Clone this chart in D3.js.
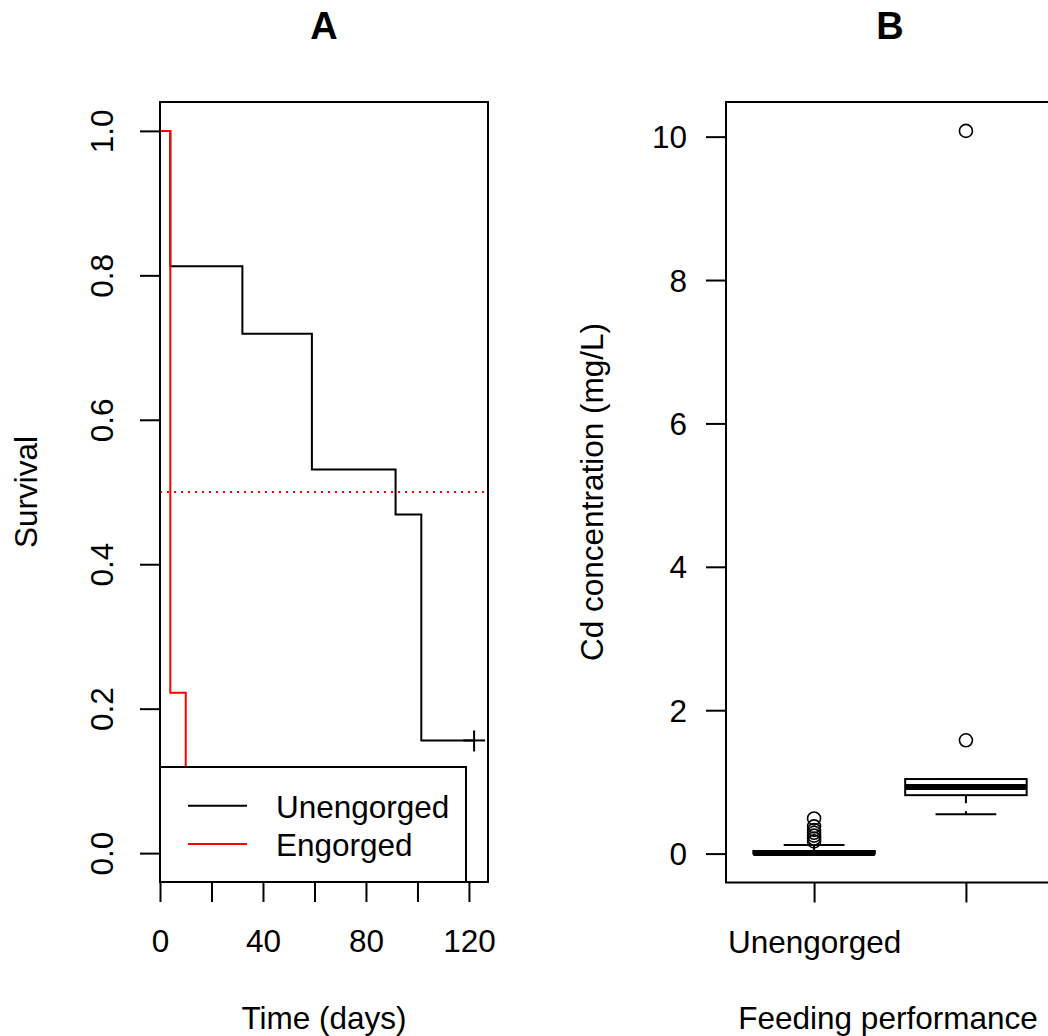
<!DOCTYPE html>
<html>
<head>
<meta charset="utf-8">
<script src="https://cdnjs.cloudflare.com/ajax/libs/d3/7.8.5/d3.min.js"></script>
<style>
  body { margin: 0; background: #fff; }
  text { font-family: "Liberation Sans", Arial, sans-serif; fill: #000; }
</style>
</head>
<body>
<script>
// ---- data ----
// Panel A: Kaplan-Meier steps
var unengTimes = [0, 4, 32, 59, 91.5, 101.5, 122];
var unengSurv  = [1, 0.8125, 0.719, 0.531, 0.469, 0.156, 0.156];
var engTimes   = [0, 4, 10, 10];
var engSurv    = [1, 0.222, 0, 0];
var censorTimes = [122];
var censorSurv  = [0.156];
var legendLabels = ["Unengorged", "Engorged"];
var legendColors = ["#000000", "#ff0000"];
var xTicksA = [0, 20, 40, 60, 80, 100, 120];
var xLabelsA = [0, 40, 80, 120];
var yTicksA = [0, 0.2, 0.4, 0.6, 0.8, 1.0];

// Panel B: boxplot stats
var groups   = ["Unengorged", "Engorged"];
var whiskLo  = [0, 0.55];
var q1       = [0, 0.815];
var medians  = [0.01, 0.93];
var q3       = [0.035, 1.04];
var whiskHi  = [0.12, 1.04];
var outliers = [[0.17, 0.21, 0.25, 0.29, 0.33, 0.38, 0.49], [1.58, 10.08]];
var yTicksB  = [0, 2, 4, 6, 8, 10];

var fs = 31.5;

var svg = d3.select("body").append("svg")
    .attr("width", 1048)
    .attr("height", 1036);

// ================= Panel A =================
var xA = d3.scaleLinear().domain([0, 127.4]).range([160, 488]);
var yA = d3.scaleLinear().domain([-0.04, 1.04]).range([882, 102]);

svg.append("text")
    .attr("x", 324).attr("y", 39)
    .attr("text-anchor", "middle")
    .style("font-size", "38px").style("font-weight", "bold")
    .text("A");

// y axis
var yAxisA = svg.append("g")
    .attr("transform", "translate(160,0)")
    .call(d3.axisLeft(yA).tickValues(yTicksA).tickSize(20).tickFormat(d3.format(".1f")));
yAxisA.select(".domain").remove();
yAxisA.selectAll("line").attr("stroke", "#000").attr("stroke-width", 2);
yAxisA.selectAll("text")
    .attr("x", 0).attr("y", 0).attr("dy", 0)
    .attr("text-anchor", "middle")
    .attr("transform", "translate(-47,0) rotate(-90)")
    .style("font-size", fs + "px").attr("fill", "#000");

// x axis
var xAxisA = svg.append("g")
    .attr("transform", "translate(0,882)")
    .call(d3.axisBottom(xA).tickValues(xTicksA).tickSize(20)
        .tickFormat(function(d) { return xLabelsA.indexOf(d) >= 0 ? d : ""; }));
xAxisA.select(".domain").remove();
xAxisA.selectAll("line").attr("stroke", "#000").attr("stroke-width", 2);
xAxisA.selectAll("text")
    .attr("y", 70).attr("dy", 0)
    .style("font-size", fs + "px").attr("fill", "#000");

svg.append("text")
    .attr("x", 324).attr("y", 1029)
    .attr("text-anchor", "middle")
    .style("font-size", fs + "px")
    .text("Time (days)");

svg.append("text")
    .attr("transform", "translate(37,492) rotate(-90)")
    .attr("text-anchor", "middle")
    .style("font-size", fs + "px")
    .text("Survival");

// curves
var stepLine = d3.line()
    .x(function(d) { return xA(d[0]); })
    .y(function(d) { return yA(d[1]); })
    .curve(d3.curveStepAfter);

svg.append("path")
    .datum(d3.zip(unengTimes, unengSurv))
    .attr("d", stepLine)
    .attr("fill", "none").attr("stroke", "#000").attr("stroke-width", 2);

svg.append("path")
    .datum(d3.zip(engTimes, engSurv))
    .attr("d", stepLine)
    .attr("fill", "none").attr("stroke", "#ff0000").attr("stroke-width", 2);

// censor marks
censorTimes.forEach(function(t, i) {
    var cx = xA(t), cy = yA(censorSurv[i]);
    svg.append("line").attr("x1", cx - 11).attr("x2", cx + 11).attr("y1", cy).attr("y2", cy)
        .attr("stroke", "#000").attr("stroke-width", 2);
    svg.append("line").attr("x1", cx).attr("x2", cx).attr("y1", cy - 10).attr("y2", cy + 11)
        .attr("stroke", "#000").attr("stroke-width", 2);
});

// median reference line
svg.append("line")
    .attr("x1", 160).attr("x2", 488)
    .attr("y1", yA(0.5)).attr("y2", yA(0.5))
    .attr("stroke", "#ff0000").attr("stroke-width", 2)
    .attr("stroke-dasharray", "2,5");

// legend
svg.append("rect")
    .attr("x", 160).attr("y", 767).attr("width", 306).attr("height", 115)
    .attr("fill", "#fff").attr("stroke", "#000").attr("stroke-width", 2);
legendLabels.forEach(function(lab, i) {
    var ly = 805.7 + i * 38.3;
    svg.append("line")
        .attr("x1", 188).attr("x2", 247).attr("y1", ly).attr("y2", ly)
        .attr("stroke", legendColors[i]).attr("stroke-width", 2);
    svg.append("text")
        .attr("x", 276).attr("y", ly + 12)
        .style("font-size", fs + "px")
        .text(lab);
});

// plot box
svg.append("rect")
    .attr("x", 160).attr("y", 102).attr("width", 328).attr("height", 780)
    .attr("fill", "none").attr("stroke", "#000").attr("stroke-width", 2);

// ================= Panel B =================
var xB = d3.scaleLinear().domain([0.42, 2.58]).range([726, 1054]);
var yB = d3.scaleLinear().domain([-0.4032, 10.4832]).range([882.5, 102]);
var unit = xB(1) - xB(0);
var boxW = 0.8 * unit;
var stapW = 0.4 * unit;

svg.append("text")
    .attr("x", 890).attr("y", 39)
    .attr("text-anchor", "middle")
    .style("font-size", "38px").style("font-weight", "bold")
    .text("B");

var yAxisB = svg.append("g")
    .attr("transform", "translate(726,0)")
    .call(d3.axisLeft(yB).tickValues(yTicksB).tickSize(20));
yAxisB.select(".domain").remove();
yAxisB.selectAll("line").attr("stroke", "#000").attr("stroke-width", 2);
yAxisB.selectAll("text")
    .attr("x", -39).attr("dy", 0).attr("y", 11)
    .attr("text-anchor", "end")
    .style("font-size", fs + "px").attr("fill", "#000");

var xAxisB = svg.append("g")
    .attr("transform", "translate(0,882.5)")
    .call(d3.axisBottom(xB).tickValues([1, 2]).tickSize(20)
        .tickFormat(function(d) { return d === 1 ? groups[0] : ""; }));
xAxisB.select(".domain").remove();
xAxisB.selectAll("line").attr("stroke", "#000").attr("stroke-width", 2);
xAxisB.selectAll("text")
    .attr("y", 70).attr("dy", 0)
    .style("font-size", fs + "px").attr("fill", "#000");

svg.append("text")
    .attr("x", 888).attr("y", 1029)
    .attr("text-anchor", "middle")
    .style("font-size", fs + "px")
    .text("Feeding performance");

svg.append("text")
    .attr("transform", "translate(603,492) rotate(-90)")
    .attr("text-anchor", "middle")
    .style("font-size", fs + "px")
    .text("Cd concentration (mg/L)");

// boxes
groups.forEach(function(g, i) {
    var cx = xB(i + 1);
    var gg = svg.append("g");
    // whiskers (dashed)
    gg.append("line").attr("x1", cx).attr("x2", cx)
        .attr("y1", yB(q1[i])).attr("y2", yB(whiskLo[i]))
        .attr("stroke", "#000").attr("stroke-width", 2).attr("stroke-dasharray", "8,8");
    gg.append("line").attr("x1", cx).attr("x2", cx)
        .attr("y1", yB(q3[i])).attr("y2", yB(whiskHi[i]))
        .attr("stroke", "#000").attr("stroke-width", 2).attr("stroke-dasharray", "8,8");
    // staples
    [whiskLo[i], whiskHi[i]].forEach(function(v) {
        gg.append("line").attr("x1", cx - stapW / 2).attr("x2", cx + stapW / 2)
            .attr("y1", yB(v)).attr("y2", yB(v))
            .attr("stroke", "#000").attr("stroke-width", 2);
    });
    // box
    gg.append("rect")
        .attr("x", cx - boxW / 2).attr("width", boxW)
        .attr("y", yB(q3[i])).attr("height", yB(q1[i]) - yB(q3[i]))
        .attr("fill", "#fff").attr("stroke", "#000").attr("stroke-width", 2);
    // median
    gg.append("line").attr("x1", cx - boxW / 2).attr("x2", cx + boxW / 2)
        .attr("y1", yB(medians[i])).attr("y2", yB(medians[i]))
        .attr("stroke", "#000").attr("stroke-width", 6);
    // outliers
    gg.selectAll("circle").data(outliers[i]).enter().append("circle")
        .attr("cx", cx).attr("cy", function(d) { return yB(d); })
        .attr("r", 6.5)
        .attr("fill", "none").attr("stroke", "#000").attr("stroke-width", 1.6);
});

svg.append("rect")
    .attr("x", 726).attr("y", 102).attr("width", 328).attr("height", 780.5)
    .attr("fill", "none").attr("stroke", "#000").attr("stroke-width", 2);
</script>
</body>
</html>
